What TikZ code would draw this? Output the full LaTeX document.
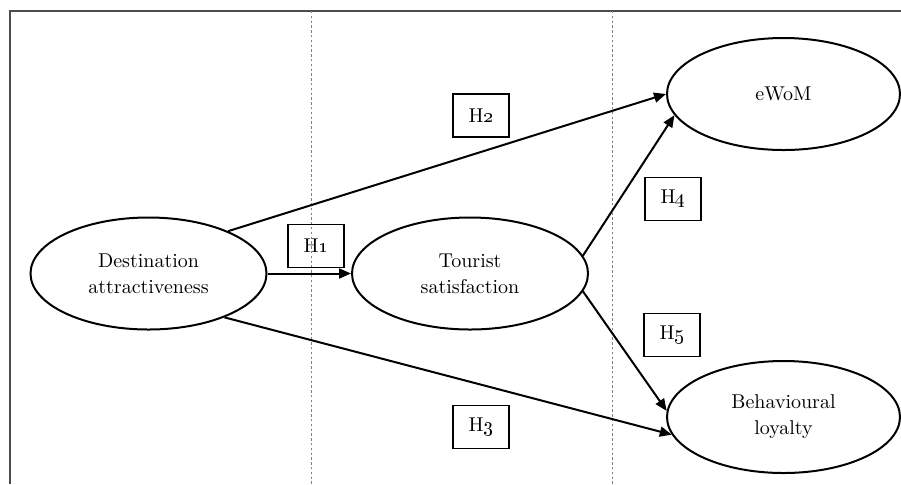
\documentclass[tikz,border=0pt]{standalone}
\usepackage{amsmath}
\usepackage{tikz}
\usetikzlibrary{shapes.geometric,arrows.meta}

\begin{document}
\begin{tikzpicture}[x=0.5pt,y=-0.5pt,
   construct/.style={draw, ellipse, line width=1pt, align=center, inner sep=1pt,
      minimum width=118pt, minimum height=56pt, font=\fontsize{10}{13}\selectfont},
   hyp/.style={draw, line width=0.6pt, minimum width=28pt, minimum height=21.5pt,
      inner sep=0pt, font=\fontsize{10}{12}\selectfont},
   link/.style={line width=1pt, -{Triangle[length=6pt,width=5pt]}},
   divider/.style={gray, line width=0.4pt, dash pattern=on 1.2pt off 1.2pt}]
   \useasboundingbox (0,0) rectangle (901,484);

   % frame and column lines
   \draw [line width=0.8pt, black!70] (10,484) -- (10,11) -- (901,11);
   \draw [divider] (311,11) -- (311,484);
   \draw [divider] (612,11) -- (612,484);

   % constructs
   \node [construct] (da) at (148.5,273.5) {Destination\\attractiveness};
   \node [construct] (ts) at (470,273.5) {Tourist\\satisfaction};
   \node [construct, minimum width=116.5pt] (ewom) at (783.5,94) {eWoM};
   \node [construct, minimum width=116.5pt] (bl) at (783.5,417) {Behavioural\\loyalty};

   % hypotheses
   \node [hyp] (h1) at (316,246) {H\oldstylenums{1}};
   \node [hyp] (h2) at (481,115.5) {H\oldstylenums{2}};
   \node [hyp] (h3) at (481,427) {H\oldstylenums{3}};
   \node [hyp] (h4) at (673,199) {H\oldstylenums{4}};
   \node [hyp] (h5) at (672,335) {H\oldstylenums{5}};

   \draw [link] (da.east) -- (ts.west);
   \draw [link] (da.28) -- (ewom.west);
   \draw [link] (da.-30) -- (bl.189);
   \draw [link] (ts.9) -- (ewom.191);
   \draw [link] (ts.-9) -- (bl.177);
\end{tikzpicture}
\end{document}
